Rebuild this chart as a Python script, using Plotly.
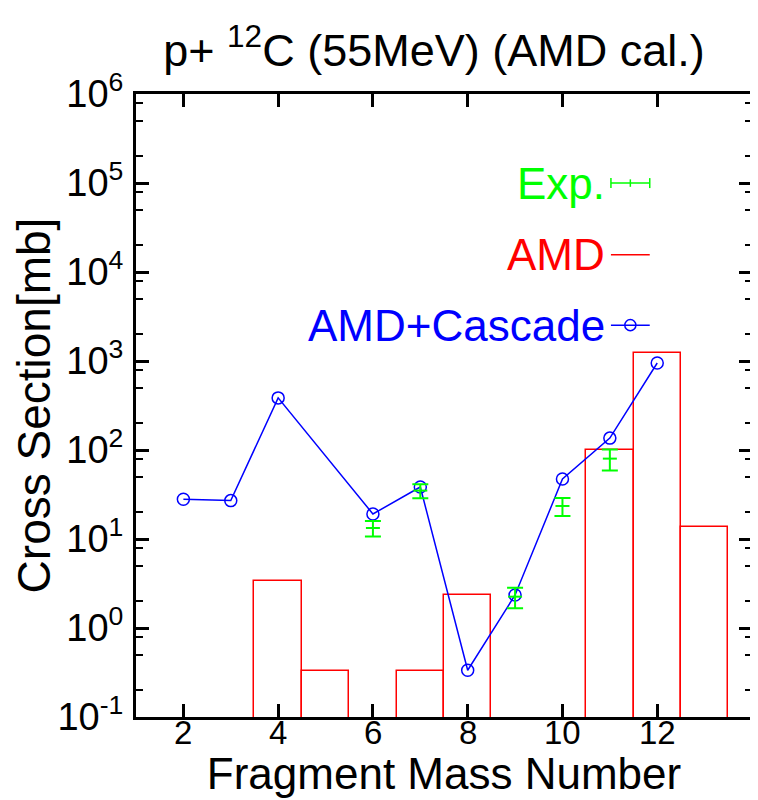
import plotly.graph_objects as go

# ---- data ----
amd_mass = [4, 5, 7, 8, 11, 12, 13]
amd_xs = [3.37, 0.33, 0.33, 2.35, 100, 1230, 13.6]

casc_mass = [2, 3, 4, 6, 7, 8, 9, 10, 11, 12]
casc_xs = [28, 27, 385, 19.1, 38.4, 0.335, 2.35, 47.2, 136, 950]

exp_mass = [6, 7, 9, 10, 11]
exp_xs = [13.3, 35, 2.25, 23.5, 80]
exp_err = [2.6, 6.3, 0.58, 5.4, 21]

x_ticks = [2, 4, 6, 8, 10, 12]
x_ticktext = ["2", "4", "6", "8", "10", "12"]
y_ticks = [1e-1, 1e0, 1e1, 1e2, 1e3, 1e4, 1e5, 1e6]
y_ticktext = ["10<sup>-1</sup>", "10<sup>0</sup>", "10<sup>1</sup>", "10<sup>2</sup>",
              "10<sup>3</sup>", "10<sup>4</sup>", "10<sup>5</sup>", "10<sup>6</sup>"]
y_minor = [m * 10.0 ** e for e in range(-1, 6) for m in (2, 5, 8)]

FONT = "Liberation Sans, Arial, sans-serif"
GREEN = "#00ff00"
RED = "#ff0000"
BLUE = "#0000ff"

fig = go.Figure()

fig.add_trace(go.Bar(
    x=amd_mass, y=amd_xs, width=1,
    marker=dict(color="rgba(0,0,0,0)", line=dict(color=RED, width=1.5)),
    showlegend=False,
))

fig.add_trace(go.Scatter(
    x=casc_mass, y=casc_xs, mode="lines+markers",
    line=dict(color=BLUE, width=1.5),
    marker=dict(symbol="circle-open", size=12, color=BLUE, line=dict(width=1.5)),
    showlegend=False,
))

fig.add_trace(go.Scatter(
    x=exp_mass, y=exp_xs, mode="markers",
    marker=dict(symbol="line-ew", size=10, color=GREEN, line=dict(color=GREEN, width=2)),
    error_y=dict(type="data", array=exp_err, visible=True, color=GREEN, thickness=2, width=8),
    showlegend=False,
))

# ---- x tick labels (placed tight under the axis, as in the reference) ----
for tv, tt in zip(x_ticks, x_ticktext):
    fig.add_annotation(x=tv, y=0, xref="x", yref="paper", text=tt, showarrow=False,
                       xanchor="center", yanchor="top", yshift=5,
                       font=dict(family=FONT, size=33, color="black"))

# ---- legend (text left of sample, drawn in paper coords) ----
leg_items = [("Exp.", GREEN, 0.857), ("AMD", RED, 0.742), ("AMD+Cascade", BLUE, 0.629)]
for txt, col, yy in leg_items:
    fig.add_annotation(x=0.764, y=yy, xref="paper", yref="paper", text=txt,
                       showarrow=False, xanchor="right", yanchor="middle",
                       font=dict(family=FONT, size=44, color=col))
    fig.add_shape(type="line", xref="paper", yref="paper", x0=0.771, x1=0.834, y0=yy, y1=yy,
                  line=dict(color=col, width=1.5))
# Exp sample caps
g_ymid = 0.857
for xx, h in ((0.771, 0.008), (0.834, 0.008), (0.8025, 0.006)):
    fig.add_shape(type="line", xref="paper", yref="paper", x0=xx, x1=xx,
                  y0=g_ymid - h, y1=g_ymid + h, line=dict(color=GREEN, width=1.5))
# Cascade sample circle
fig.add_shape(type="circle", xref="paper", yref="paper",
              x0=0.8025 - 0.0090, x1=0.8025 + 0.0090, y0=0.629 - 0.0089, y1=0.629 + 0.0089,
              line=dict(color=BLUE, width=1.5))

# page body has an 8px margin, so the figure is sized/offset to compensate
fig.update_layout(
    width=750, height=792,
    margin=dict(l=128, r=3, t=86, b=83),
    paper_bgcolor="white", plot_bgcolor="white",
    bargap=0, showlegend=False,
    font=dict(family=FONT, color="black"),
    title=dict(text="p+ <sup>12</sup>C (55MeV) (AMD cal.)", x=0.568, xanchor="center",
               y=0.947, yanchor="middle", font=dict(family=FONT, size=45, color="black")),
)

fig.update_xaxes(
    range=[1, 14], tickvals=x_ticks, ticks="inside", ticklen=13, tickwidth=2.5,
    tickcolor="black", showline=True, linecolor="black", linewidth=3, mirror="allticks",
    showgrid=False, zeroline=False, showticklabels=False,
    title=dict(text="Fragment Mass Number", font=dict(family=FONT, size=44), standoff=40),
)
fig.update_yaxes(
    type="log", range=[-1, 6], tickvals=y_ticks, ticktext=y_ticktext,
    ticks="inside", ticklen=13, tickwidth=2.5, tickcolor="black",
    minor=dict(tickvals=y_minor, ticks="inside", ticklen=7, tickwidth=2, tickcolor="black"),
    showline=True, linecolor="black", linewidth=3, mirror="allticks",
    showgrid=False, zeroline=False, tickfont=dict(family=FONT, size=38),
    ticklabelstandoff=2,
    title=dict(text="Cross Section[mb]", font=dict(family=FONT, size=46), standoff=4),
)

fig.write_html("out.html")
